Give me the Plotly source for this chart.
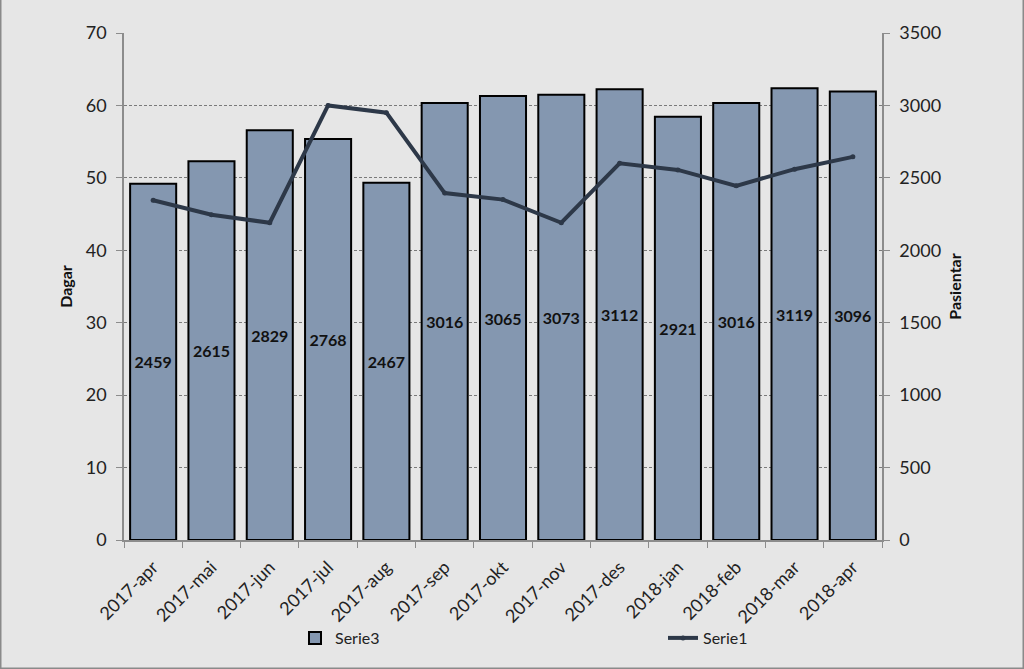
import plotly.graph_objects as go

months = ["2017-apr", "2017-mai", "2017-jun", "2017-jul", "2017-aug", "2017-sep", "2017-okt",
          "2017-nov", "2017-des", "2018-jan", "2018-feb", "2018-mar", "2018-apr"]
serie3_pasientar = [2459, 2615, 2829, 2768, 2467, 3016, 3065, 3073, 3112, 2921, 3016, 3119, 3096]
serie1_dagar = [46.9, 44.9, 43.8, 60.0, 59.0, 47.9, 47.0, 43.8, 52.0, 51.1, 48.9, 51.2, 52.9]

left_ticks = [0, 10, 20, 30, 40, 50, 60, 70]
right_ticks = [0, 500, 1000, 1500, 2000, 2500, 3000, 3500]

W, H = 1024, 669
L, R, T, B = 124, 142, 33, 129
pw, ph = W - L - R, H - T - B

FONT = "Lato, 'Noto Sans', sans-serif"
BG = "#e6e6e6"
LEG_Y = -(638 - (T + ph)) / ph

fig = go.Figure()
fig.add_trace(go.Bar(
    x=months, y=serie3_pasientar, name="Serie3", yaxis="y", legend="legend",
    marker=dict(color="#8497b0", line=dict(color="#000000", width=2)),
    text=[str(v) for v in serie3_pasientar], textposition="inside",
    insidetextanchor="middle", textangle=0, constraintext="none",
    textfont=dict(family=FONT, size=16, color="#111111", weight="bold"),
))
fig.add_trace(go.Scatter(
    x=months, y=serie1_dagar, name="Serie1", yaxis="y2", mode="lines+markers", legend="legend2",
    line=dict(color="#2d3848", width=4),
    marker=dict(color="#2d3848", size=5),
))

legend_common = dict(orientation="h", xanchor="left", y=LEG_Y, yanchor="middle",
                     font=dict(family=FONT, size=16, color="#222222"), bgcolor="rgba(0,0,0,0)")

fig.update_layout(
    width=W, height=H,
    margin=dict(l=L, r=R, t=T, b=B),
    paper_bgcolor=BG, plot_bgcolor=BG,
    font=dict(family=FONT, size=17, color="#222222"),
    bargap=0.21,
    showlegend=True,
    legend=dict(x=(295 - L) / pw, **legend_common),
    legend2=dict(x=(663 - L) / pw, **legend_common),
    xaxis=dict(
        type="category", range=[-0.5, len(months) - 0.5],
        showline=True, linecolor="#8c8c8c", linewidth=1.5,
        ticks="outside", tickson="boundaries", ticklen=6, tickcolor="#8c8c8c",
        tickangle=-45, tickfont=dict(family=FONT, size=18, color="#222222"),
        ticklabelstandoff=8,
        showgrid=False,
    ),
    yaxis=dict(
        side="right", range=[0, 3500], tickvals=right_ticks,
        showline=True, linecolor="#8c8c8c", linewidth=1.5,
        ticks="outside", ticklen=6, tickcolor="#8c8c8c", ticklabelstandoff=6,
        showgrid=True, gridcolor="#7a7a7a", griddash="3px,2px", gridwidth=1,
        zeroline=False,
        title=dict(text="<b>Pasientar</b>", font=dict(family=FONT, size=16, color="#111111"), standoff=10),
        tickfont=dict(family=FONT, size=18, color="#222222"),
    ),
    yaxis2=dict(
        side="left", overlaying="y", range=[0, 70], tickvals=left_ticks,
        showline=True, linecolor="#8c8c8c", linewidth=1.5,
        ticks="outside", ticklen=6, tickcolor="#8c8c8c", ticklabelstandoff=6,
        showgrid=False, zeroline=False,
        title=dict(text="<b>Dagar</b>", font=dict(family=FONT, size=16, color="#111111"), standoff=9),
        tickfont=dict(family=FONT, size=18, color="#222222"),
    ),
    shapes=[dict(type="rect", xref="paper", yref="paper",
                 x0=-(L - 0.75) / pw, x1=(W - L - 0.75) / pw,
                 y0=-(B - 0.75) / ph, y1=(H - T - 0.75) / ph,
                 line=dict(color="#8a8a8a", width=1.5), fillcolor="rgba(0,0,0,0)", layer="below")],
)

fig.write_html("out.html", config={"displayModeBar": False},
               post_script="document.body.style.margin='0';document.body.style.padding='0';"
                           "document.body.style.overflow='hidden';")
